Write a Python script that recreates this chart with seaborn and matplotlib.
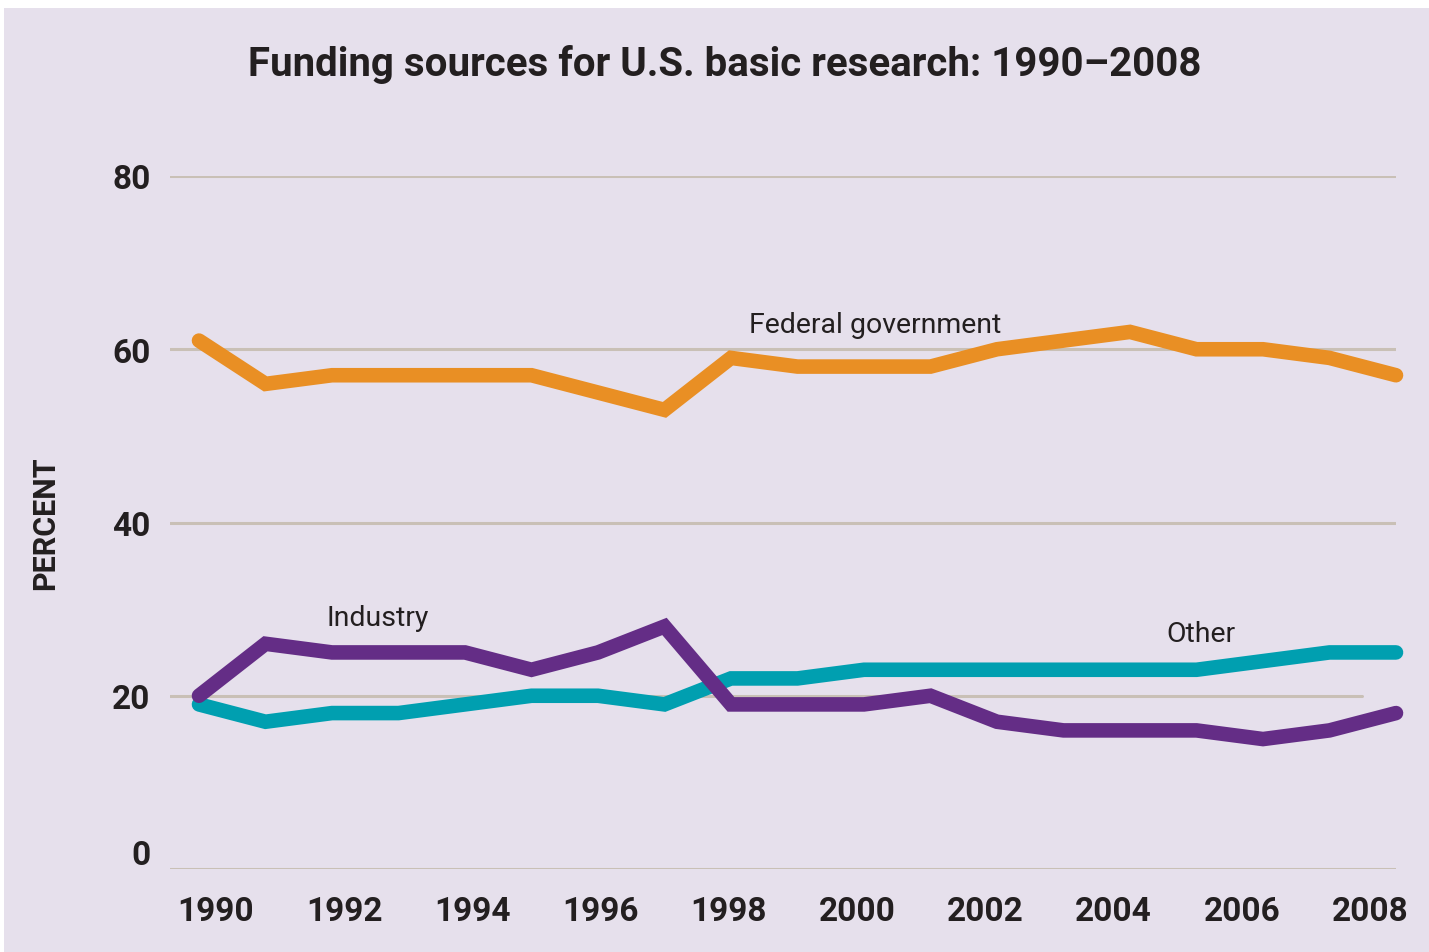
import numpy as np
import pandas as pd
import seaborn as sns
import matplotlib.transforms as mtransforms
from matplotlib import pyplot as plt
from matplotlib.patches import Rectangle

# data (percent of basic research funding)
years = list(range(1990, 2009))
federal = [61, 56, 57, 57, 57, 57, 55, 53, 59, 58, 58, 58, 60, 61, 62, 60, 60, 59, 57]
industry = [20, 26, 25, 25, 25, 23, 25, 28, 19, 19, 19, 20, 17, 16, 16, 16, 15, 16, 18]
other = [19, 17, 18, 18, 19, 20, 20, 19, 22, 22, 23, 23, 23, 23, 23, 23, 24, 25, 25]

series_names = ["Federal government", "Other", "Industry"]
series_colors = ["#E98F24", "#009FB0", "#642D86"]
y_ticks = [0, 20, 40, 60, 80]
x_ticks = list(range(1990, 2009, 2))

df = pd.DataFrame(
    {
        "year": years * 3,
        "percent": federal + other + industry,
        "source": [s for s in series_names for _ in years],
    }
)

bg = "#E6E0EC"
grid_col = "#C9C0B6"
ink = "#231F20"

sns.set_theme(style="white")
plt.rcParams["font.family"] = ["Roboto", "DejaVu Sans"]

fig = plt.figure(figsize=(14.29, 9.53), dpi=100, facecolor="white")
fig.patches.append(
    Rectangle((4 / 1429, 0), 1, 1 - 9 / 953, transform=fig.transFigure,
              facecolor=bg, edgecolor="none", zorder=-10)
)

ax = fig.add_axes([170 / 1429, 1 - 870 / 953, 1226 / 1429, 693 / 953])
ax.set_facecolor("none")

# grid lines (the 20 line stops a bit short in the original)
for v in y_ticks:
    xmax = 0.972 if v == 20 else 1.0
    ax.axhline(v, xmax=xmax, color=grid_col, lw=2.2, zorder=1)

sns.lineplot(
    data=df, x="year", y="percent", hue="source",
    palette=dict(zip(series_names, series_colors)),
    linewidth=10.5, legend=False, ax=ax, zorder=3,
)
for ln in ax.get_lines()[-3:]:
    ln.set_solid_capstyle("round")
    ln.set_solid_joinstyle("miter")
    ln.set_clip_on(False)

ax.set_xlim(1989.564, 2008)
ax.set_ylim(0, 80)
ax.set_xticks([])
ax.set_xlabel("")
ax.set_yticks(y_ticks)
ax.set_yticklabels([str(v) for v in y_ticks])
ax.tick_params(axis="y", length=0, pad=14, labelsize=24, labelcolor=ink)
for lab in ax.get_yticklabels():
    lab.set_fontweight("bold")
# the "0" label sits a little above its line
zero_lab = ax.get_yticklabels()[0]
zero_lab.set_transform(zero_lab.get_transform() + mtransforms.ScaledTranslation(0, 17 / 100, fig.dpi_scale_trans))

ax.set_ylabel("PERCENT", fontsize=22, fontweight="bold", color=ink)
ax.yaxis.set_label_coords(-0.0897, 0.5)
sns.despine(ax=ax, left=True, bottom=True)

# year labels sit on a slightly different spacing than the data
ax2 = ax.twiny()
ax2.set_xlim(1989.2825, 2008.4056)
ax2.xaxis.set_ticks_position("bottom")
ax2.set_xticks(x_ticks)
ax2.set_xticklabels([str(v) for v in x_ticks], fontweight="bold")
ax2.tick_params(axis="x", length=0, pad=19, labelsize=24, labelcolor=ink)
for s in ax2.spines.values():
    s.set_visible(False)

# line labels
ax.text(2000.17, 62.9, "Federal government", ha="center", va="center",
        fontsize=20.5, color=ink)
ax.text(1992.69, 29.0, "Industry", ha="center", va="center",
        fontsize=20.5, color=ink)
ax.text(2005.07, 27.2, "Other", ha="center", va="center",
        fontsize=20.5, color=ink)

fig.text(0.5073, 1 - 64 / 953, "Funding sources for U.S. basic research: 1990\u20132008",
         ha="center", va="center", fontsize=29, fontweight="bold", color=ink)

fig.savefig("out.png", dpi=100, facecolor=fig.get_facecolor())
